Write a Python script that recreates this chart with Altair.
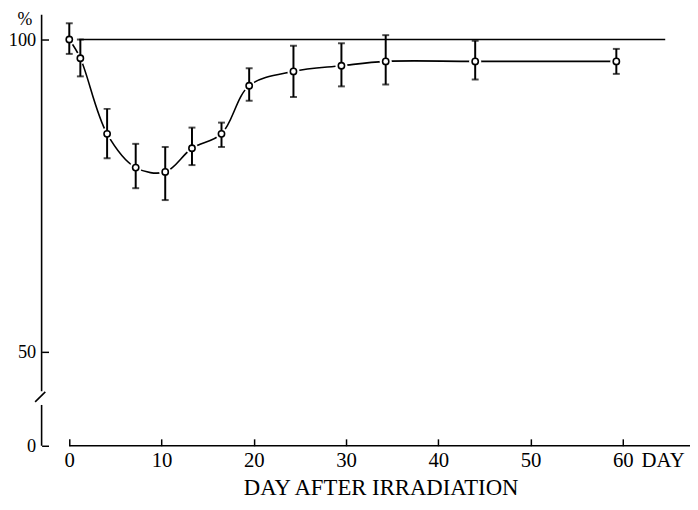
import altair as alt
import pandas as pd

# ---- data ----
days = [0, 1.2, 4.1, 7.2, 10.4, 13.3, 16.5, 19.5, 24.3, 29.5, 34.3, 44, 59.3]
percent = [100, 97.0, 84.9, 79.5, 78.8, 82.6, 84.9, 92.6, 94.9, 95.8, 96.5, 96.5, 96.5]
upper = [102.6, 100.0, 88.9, 83.3, 82.8, 85.9, 86.7, 95.4, 99.0, 99.4, 100.7, 99.8, 98.5]
lower = [97.7, 94.1, 81.0, 76.2, 74.3, 79.9, 82.8, 90.2, 90.8, 92.5, 92.8, 93.6, 94.5]

x_ticks = [0, 10, 20, 30, 40, 50, 60]
y_ticks = [0, 50, 100]
ref_level = 100
ref_start, ref_end = 1.07, 64.6

FONT = "Liberation Serif"

# ---- scales ----
W, H = 656, 436
k = 560 / 60  # px per day
x_dom = [-28 / k, (W - 28) / k]
s = 6.32  # px per percent on the upper segment
top_val = 100 + 25 / s
brk = 40
y_dom = [0, brk, top_val]
y_rng = [H, 25 + (100 - brk) * s, 0]

xs = alt.Scale(domain=x_dom, nice=False, zero=False)
ys = alt.Scale(domain=y_dom, range=y_rng, nice=False, zero=False)

df = pd.DataFrame({"day": days, "pct": percent, "hi": upper, "lo": lower})

x_axis = alt.Axis(values=x_ticks, domain=False, grid=False, tickSize=7, offset=-7,
                  tickWidth=1.5, tickColor="black", labelFont=FONT, labelFontSize=21,
                  labelPadding=4, labelColor="black", labelFlush=False, title=None)
y_axis = alt.Axis(values=y_ticks, domain=False, grid=False, tickSize=7, offset=-7,
                  tickWidth=1.5, tickColor="black", labelFont=FONT, labelFontSize=18.5,
                  labelPadding=6, labelColor="black", labelFlush=False, title=None)

base = alt.Chart(df)
curve = base.mark_line(color="black", strokeWidth=1.6, interpolate="catmull-rom").encode(
    x=alt.X("day:Q", scale=xs, axis=x_axis),
    y=alt.Y("pct:Q", scale=ys, axis=y_axis))

# axis lines (with break on y)
yseg = pd.DataFrame({"x": [x_dom[0], x_dom[0]], "y": [top_val, 41.5], "y2": [43.7, 0]})
y_line = alt.Chart(yseg).mark_rule(color="black", strokeWidth=1.6).encode(
    x=alt.X("x:Q", scale=xs), y=alt.Y("y:Q", scale=ys), y2="y2:Q")
slash = pd.DataFrame({"x": [-3.7], "x2": [-2.6], "y": [42.0], "y2": [43.6]})
slash_m = alt.Chart(slash).mark_rule(color="black", strokeWidth=1.6).encode(
    x=alt.X("x:Q", scale=xs), x2="x2:Q",
    y=alt.Y("y:Q", scale=ys), y2="y2:Q")
xseg = pd.DataFrame({"x": [0], "x2": [x_dom[1]], "y": [0]})
x_line = alt.Chart(xseg).mark_rule(color="black", strokeWidth=1.6).encode(
    x=alt.X("x:Q", scale=xs), x2="x2:Q", y=alt.Y("y:Q", scale=ys))
refdf = pd.DataFrame({"x": [ref_start], "x2": [ref_end], "y": [ref_level]})
ref_line = alt.Chart(refdf).mark_rule(color="black", strokeWidth=1.6).encode(
    x=alt.X("x:Q", scale=xs), x2="x2:Q", y=alt.Y("y:Q", scale=ys))

halo = base.mark_point(shape="circle", filled=True, fill="white", fillOpacity=1,
                       opacity=1, size=150).encode(
    x=alt.X("day:Q", scale=xs), y=alt.Y("pct:Q", scale=ys))
bars = base.mark_rule(color="black", strokeWidth=2).encode(
    x=alt.X("day:Q", scale=xs), y=alt.Y("lo:Q", scale=ys), y2="hi:Q")
cap_hi = base.mark_tick(color="black", orient="horizontal", size=7, thickness=2).encode(
    x=alt.X("day:Q", scale=xs), y=alt.Y("hi:Q", scale=ys))
cap_lo = base.mark_tick(color="black", orient="horizontal", size=7, thickness=2).encode(
    x=alt.X("day:Q", scale=xs), y=alt.Y("lo:Q", scale=ys))
dots = base.mark_point(shape="circle", fill="white", fillOpacity=1, stroke="black",
                       strokeOpacity=1, opacity=1, strokeWidth=1.6, size=40).encode(
    x=alt.X("day:Q", scale=xs), y=alt.Y("pct:Q", scale=ys))

def label(txt, px, py, size, align="center"):
    return alt.Chart(pd.DataFrame({"t": [txt]})).mark_text(
        font=FONT, fontSize=size, color="black", align=align, baseline="middle").encode(
        x=alt.value(px), y=alt.value(py), text="t:N")

pct_t = label("%", -17, 5, 18)
day_t = label("DAY", 607, 451, 21, align="left")
title_t = label("DAY AFTER IRRADIATION", 343.5, 478.5, 23)

chart = alt.layer(curve, y_line, slash_m, x_line, ref_line, halo, bars, cap_hi, cap_lo,
                  dots, pct_t, day_t, title_t).properties(
    width=W, height=H,
    padding={"left": 34, "top": 4, "right": 0, "bottom": 54},
    autosize=alt.AutoSizeParams(type="none"),
).configure_view(stroke=None)

chart.save("out.html", embed_options={"renderer": "svg", "actions": False})
